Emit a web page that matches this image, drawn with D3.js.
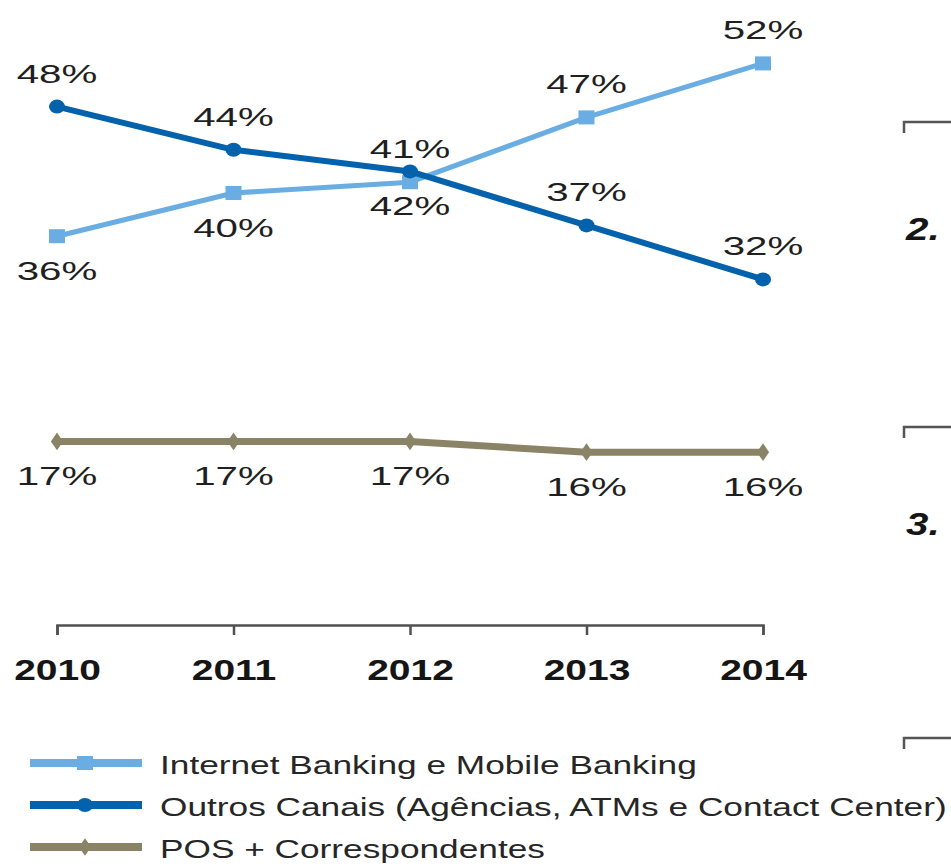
<!DOCTYPE html>
<html>
<head>
<meta charset="utf-8">
<script src="https://cdn.jsdelivr.net/npm/d3@7"></script>
<style>
  html, body { margin: 0; padding: 0; background: #ffffff; }
  svg { display: block; }
  text { font-family: "Liberation Sans", Arial, Helvetica, sans-serif; fill: #1f1f1f; }
</style>
</head>
<body>
<svg id="chart" width="951" height="866"></svg>
<script>
// Share of transactions by channel, 2010-2014 (%)
const years = [2010, 2011, 2012, 2013, 2014];
const internetBanking = [36, 40, 41, 47, 52];
const outrosCanais = [48, 44, 42, 37, 32];
const posCorrespondentes = [17, 17, 17, 16, 16];

const seriesNames = [
  "Internet Banking e Mobile Banking",
  "Outros Canais (Agências, ATMs e Contact Center)",
  "POS + Correspondentes"
];

// Which side of each point its value label sits on
const internetLabelSide = ["below", "below", "above", "above", "above"];
const outrosLabelSide = ["above", "above", "below", "above", "above"];
const posLabelSide = ["below", "below", "below", "below", "below"];

const series = [
  { name: seriesNames[0], values: internetBanking, sides: internetLabelSide, color: "#6aade2", width: 5, symbol: "square" },
  { name: seriesNames[1], values: outrosCanais, sides: outrosLabelSide, color: "#0461ab", width: 6, symbol: "circle" },
  { name: seriesNames[2], values: posCorrespondentes, sides: posLabelSide, color: "#8a8366", width: 7, symbol: "diamond" }
];

const svg = d3.select("#chart");

const x = d3.scaleLinear().domain([years[0], years[years.length - 1]]).range([57, 763]);
const y = d3.scaleLinear().domain([0, 52]).range([625, 63.4]);

// horizontal stretch applied to text glyphs
const stretch = { label: 1.55, year: 1.3, legend: 1.41, section: 1.3 };

// ---- x axis ----
const axis = d3.axisBottom(x)
  .tickValues(years)
  .tickFormat(d3.format("d"))
  .tickSize(10)
  .tickSizeOuter(10);

const gAxis = svg.append("g")
  .attr("transform", `translate(0,${y(0)})`)
  .call(axis);

gAxis.select(".domain").attr("stroke", "#505050").attr("stroke-width", 2.5);
gAxis.selectAll(".tick line").attr("stroke", "#505050").attr("stroke-width", 2.5);
gAxis.selectAll(".tick text")
  .attr("y", 55)
  .attr("dy", 0)
  .attr("transform", `scale(${stretch.year},1)`)
  .style("font-size", "30px")
  .style("font-weight", "bold")
  .style("fill", "#151515");

// ---- lines, markers, labels ----
const line = d3.line()
  .x((d, i) => x(years[i]))
  .y(d => y(d));

function drawMarker(g, kind, color) {
  if (kind === "square") {
    g.append("rect").attr("x", -8).attr("y", -7).attr("width", 16).attr("height", 14).attr("fill", color);
  } else if (kind === "circle") {
    g.append("ellipse").attr("rx", 8).attr("ry", 7).attr("fill", color);
  } else {
    g.append("path")
      .attr("d", d3.symbol().type(d3.symbolDiamond).size(90)())
      .attr("transform", "scale(1.2,1)")
      .attr("fill", color);
  }
}

series.forEach(s => {
  const g = svg.append("g");
  g.append("path")
    .datum(s.values)
    .attr("d", line)
    .attr("fill", "none")
    .attr("stroke", s.color)
    .attr("stroke-width", s.width)
    .attr("stroke-linejoin", "round");

  s.values.forEach((v, i) => {
    const m = g.append("g").attr("transform", `translate(${x(years[i])},${y(v)})`);
    drawMarker(m, s.symbol, s.color);
  });

  s.values.forEach((v, i) => {
    const off = s.sides[i] === "above" ? -24 : 44;
    g.append("text")
      .attr("transform", `translate(${x(years[i])},${y(v) + off}) scale(${stretch.label},1)`)
      .attr("text-anchor", "middle")
      .style("font-size", "26px")
      .text(v + "%");
  });
});

// ---- legend ----
const legend = svg.append("g").attr("transform", "translate(30,763)");
series.forEach((s, i) => {
  const row = legend.append("g").attr("transform", `translate(0,${i * 42})`);
  row.append("line")
    .attr("x1", 0).attr("x2", 112)
    .attr("stroke", s.color)
    .attr("stroke-width", 8);
  const m = row.append("g").attr("transform", "translate(55,0)");
  drawMarker(m, s.symbol, s.color);
  row.append("text")
    .attr("transform", `translate(130,11) scale(${stretch.legend},1)`)
    .style("font-size", "25px")
    .style("fill", "#262626")
    .text(s.name);
});

// ---- edge of the neighbouring panel ----
const sectionRules = [122, 427, 738];
const sectionNumbers = [{ label: "2.", y: 240 }, { label: "3.", y: 535 }];

sectionRules.forEach(ry => {
  svg.append("path")
    .attr("d", `M904,${ry + 11}V${ry}H951`)
    .attr("fill", "none")
    .attr("stroke", "#555")
    .attr("stroke-width", 2.5);
});
sectionNumbers.forEach(n => {
  svg.append("text")
    .attr("transform", `translate(906,${n.y}) scale(${stretch.section},1)`)
    .style("font-size", "31px")
    .style("font-weight", "bold")
    .style("font-style", "italic")
    .style("fill", "#151515")
    .text(n.label);
});
</script>
</body>
</html>
